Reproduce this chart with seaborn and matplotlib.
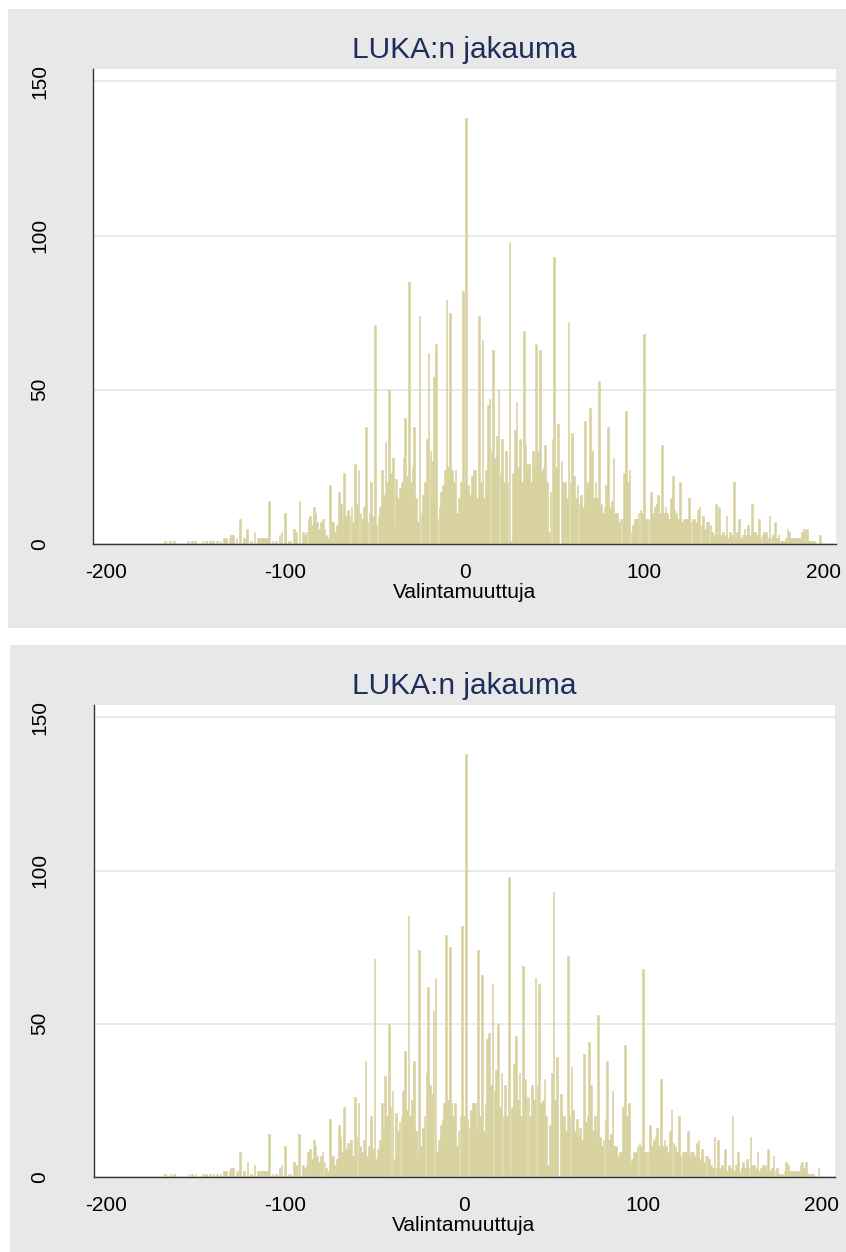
import matplotlib
matplotlib.use("Agg")
import matplotlib.pyplot as plt
from matplotlib.patches import Rectangle
import seaborn as sns

# ---- data (value of Valintamuuttuja -> frequency) ----
values = [
    -167, -164, -162, -154, -152, -150, -146, -144, -142, -140, -138, -136,
    -134, -133, -131, -130, -129, -127, -125, -123, -121, -119, -117, -115,
    -114, -113, -112, -111, -110, -109, -107, -105, -103, -102, -100, -98,
    -97, -95, -94, -92, -90, -89, -88, -87, -86, -85, -84, -83, -82, -81,
    -80, -79, -78, -77, -76, -75, -74, -73, -72, -71, -70, -69, -68, -67,
    -66, -65, -64, -63, -62, -61, -60, -59, -58, -57, -56, -55, -54, -53,
    -52, -51, -50, -49, -48, -47, -46, -45, -44, -43, -42, -41, -40, -39,
    -38, -37, -36, -35, -34, -33, -32, -31, -30, -29, -28, -27, -26, -25,
    -24, -23, -22, -21, -20, -19, -18, -17, -16, -15, -14, -13, -12, -11,
    -10, -9, -8, -7, -6, -5, -4, -3, -2, -1, 0, 1, 2, 3, 4, 5, 6, 7, 8, 9,
    10, 11, 12, 13, 14, 15, 16, 17, 18, 19, 20, 21, 22, 23, 24, 25, 26, 27,
    28, 29, 30, 31, 32, 33, 34, 35, 36, 37, 38, 39, 40, 41, 42, 43, 44, 45,
    46, 47, 48, 49, 50, 51, 52, 54, 55, 56, 57, 58, 59, 60, 61, 62, 63, 64,
    65, 66, 67, 68, 69, 70, 71, 72, 73, 74, 75, 76, 77, 78, 79, 80, 81, 82,
    83, 84, 85, 86, 87, 88, 89, 90, 91, 92, 93, 94, 95, 96, 97, 98, 99, 100,
    101, 102, 103, 104, 105, 106, 107, 108, 109, 110, 111, 112, 113, 114,
    115, 116, 117, 118, 119, 120, 121, 122, 123, 124, 125, 126, 127, 128,
    129, 130, 131, 132, 133, 134, 135, 136, 137, 138, 139, 140, 141, 142,
    143, 144, 145, 146, 147, 148, 149, 150, 151, 152, 153, 154, 155, 156,
    157, 158, 159, 160, 161, 162, 163, 164, 165, 166, 167, 168, 169, 170,
    171, 172, 173, 174, 175, 176, 177, 178, 179, 180, 181, 182, 183, 184,
    185, 186, 187, 188, 189, 190, 191, 192, 193, 194, 195, 198,
]
counts = [
    1, 1, 1, 1, 1, 1, 1, 1, 1, 1, 1, 1,
    2, 2, 2, 3, 3, 2, 8, 2, 5, 1, 4, 2,
    2, 2, 2, 2, 2, 14, 1, 1, 3, 4, 10, 1,
    1, 5, 4, 14, 4, 3, 4, 8, 9, 6, 12, 10, 7, 5,
    7, 8, 5, 3, 2, 19, 7, 7, 4, 6, 17, 13, 8, 23,
    9, 11, 9, 12, 7, 26, 13, 24, 10, 8, 12, 38, 7, 10,
    20, 9, 71, 6, 9, 12, 24, 16, 33, 20, 50, 23, 28, 6,
    21, 15, 18, 20, 28, 41, 22, 85, 20, 25, 38, 15, 7, 74,
    10, 16, 20, 34, 62, 30, 27, 54, 65, 8, 12, 17, 19, 24,
    79, 25, 75, 24, 20, 24, 10, 15, 20, 82, 20, 138, 19, 16, 22, 24, 24, 15, 74, 20,
    66, 15, 24, 45, 47, 30, 63, 28, 35, 50, 23, 34, 20, 30, 20, 98, 1, 23,
    37, 46, 25, 34, 20, 69, 32, 26, 26, 20, 30, 25, 65, 30, 63, 24, 25, 32,
    20, 4, 17, 34, 93, 25, 39, 27, 20, 20, 15, 72, 20, 36, 22, 15, 19, 13,
    16, 12, 40, 18, 20, 44, 30, 15, 20, 15, 53, 13, 10, 12, 19, 38, 12, 14,
    28, 10, 10, 7, 8, 8, 23, 43, 20, 24, 4, 6, 8, 8, 10, 11, 10, 68,
    8, 8, 8, 17, 10, 12, 13, 16, 10, 32, 10, 12, 10, 8,
    15, 22, 11, 10, 8, 20, 7, 8, 8, 8, 15, 7, 8, 8,
    7, 11, 12, 6, 9, 5, 7, 7, 6, 4, 3, 13, 3, 12,
    3, 4, 3, 9, 2, 4, 3, 20, 2, 4, 8, 2, 3, 5,
    3, 6, 3, 13, 4, 4, 3, 8, 2, 3, 4, 4, 2, 9,
    2, 3, 7, 2, 3, 1, 1, 1, 2, 5, 4, 2, 2, 2,
    2, 2, 2, 4, 5, 3, 5, 1, 1, 1, 1, 3,
]
x_ticks = [-200, -100, 0, 100, 200]
y_ticks = [0, 50, 100, 150]
title_text = "LUKA:n jakauma"
x_label = "Valintamuuttuja"

# ---- style ----
sns.set_theme(style="white")
plt.rcParams["font.family"] = ["Liberation Sans", "DejaVu Sans"]

BAR = "#d8d2a0"
PANEL = "#e8e8e8"
GRID = "#e2ecef"
AXC = "#333333"
TITLE_C = "#1f2d5c"

W, H = 846, 1252
fig = plt.figure(figsize=(W / 100, H / 100), dpi=100)
fig.patch.set_facecolor("white")

# grey graph regions
fig.add_artist(Rectangle((8 / W, 1 - 628 / H), 1 - 8 / W, (628 - 9) / H,
                         transform=fig.transFigure, facecolor=PANEL,
                         edgecolor="none", zorder=0))
fig.add_artist(Rectangle((10 / W, 0), 1 - 10 / W, 1 - 645 / H,
                         transform=fig.transFigure, facecolor=PANEL,
                         edgecolor="none", zorder=0))

ax1 = fig.add_axes([93 / W, 1 - 544 / H, 743 / W, 475 / H])
ax2 = fig.add_axes([93.5 / W, 1 - 1177 / H, 741 / W, 472 / H])


def draw(ax):
    ax.set_facecolor("white")
    sns.histplot(x=values, weights=counts, discrete=True, shrink=0.95,
                 color=BAR, edgecolor=BAR, linewidth=0.45, alpha=1.0, ax=ax)
    ax.set_xlim(-207, 207)
    ax.set_ylim(0, 154)
    ax.set_xticks(x_ticks)
    ax.set_yticks(y_ticks)
    ax.set_xticklabels([str(t) for t in x_ticks])
    ax.set_yticklabels([str(t) for t in y_ticks])
    ax.yaxis.grid(True, color=GRID, linewidth=1.4)
    ax.xaxis.grid(False)
    ax.set_axisbelow(True)
    for s in ["top", "right"]:
        ax.spines[s].set_visible(False)
    for s in ["left", "bottom"]:
        ax.spines[s].set_color(AXC)
        ax.spines[s].set_linewidth(1.0)
    ax.tick_params(axis="both", direction="out", length=6.5, width=0.9,
                   color=AXC, labelsize=15, labelcolor="black")
    ax.tick_params(axis="x", pad=7)
    ax.tick_params(axis="y", pad=32, labelrotation=90)
    for lab in ax.get_yticklabels():
        lab.set_va("center")
        lab.set_ha("center")
    ax.set_ylabel("")
    ax.set_xlabel(x_label, fontsize=15, color="black", labelpad=1)
    ax.set_title(title_text, fontsize=21.5, color=TITLE_C, pad=8)


draw(ax1)
draw(ax2)

fig.savefig("out.png", dpi=100, facecolor="white")
